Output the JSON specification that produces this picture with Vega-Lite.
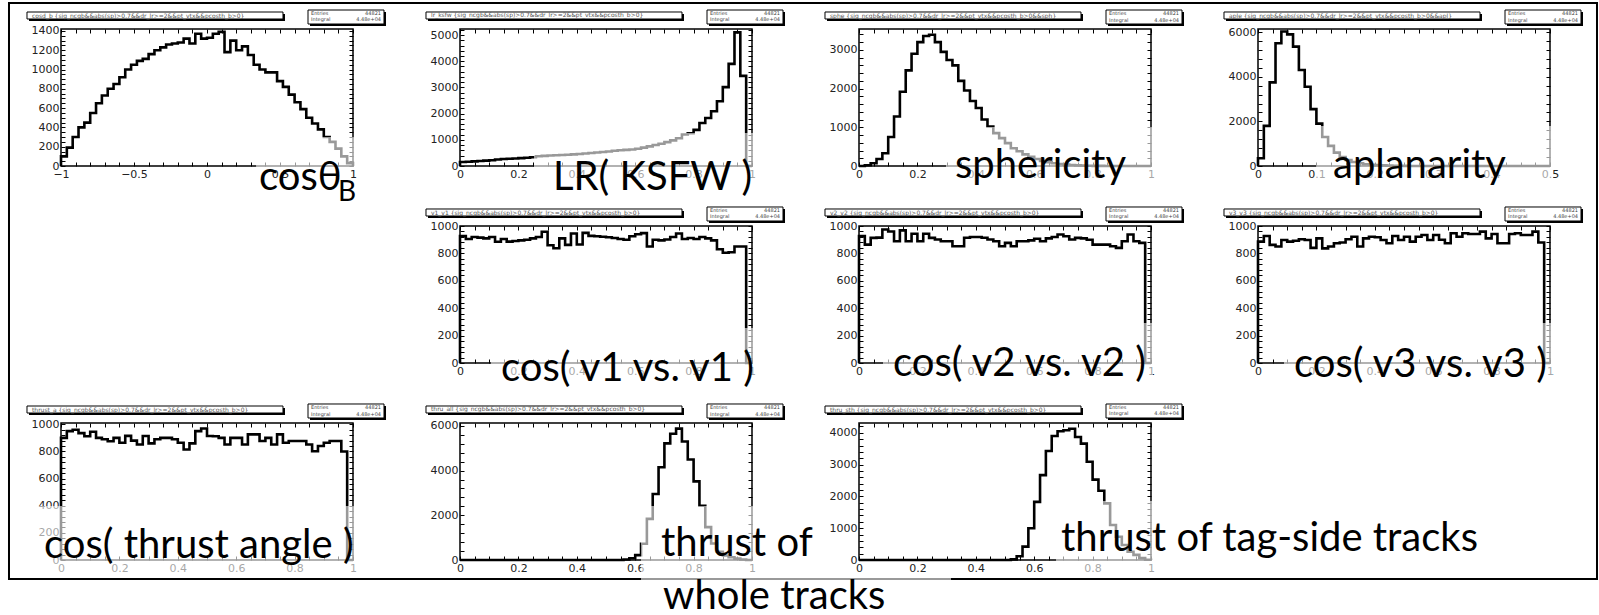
{
"$schema":"https://vega.github.io/schema/vega-lite/v6.json",
"background":"white",
"padding":{"left":7,"top":1,"right":0,"bottom":0},
"config":{
 "view":{"stroke":"black","strokeWidth":1.5},
 "axis":{"domain":false,"grid":false,"tickColor":"black","tickSize":-4,"tickWidth":1,"labelPadding":6,"labelFont":"DejaVu Sans","labelFontSize":11,"labelColor":"#222","labelFlush":false,"labelOverlap":false,"labelBound":false},
 "text":{"font":"Lato","color":"black"}
},
"columns":4,
"spacing":{"row":60,"column":107},
"bounds":"flush",
"datasets":{
"p1":[{"x":-1,"y":0},{"x":-1,"y":100},{"x":-0.96,"y":190},{"x":-0.92,"y":300},{"x":-0.88,"y":400},{"x":-0.84,"y":450},{"x":-0.8,"y":550},{"x":-0.76,"y":650},{"x":-0.72,"y":730},{"x":-0.68,"y":800},{"x":-0.64,"y":850},{"x":-0.6,"y":920},{"x":-0.56,"y":1000},{"x":-0.52,"y":1050},{"x":-0.48,"y":1090},{"x":-0.44,"y":1110},{"x":-0.4,"y":1160},{"x":-0.36,"y":1200},{"x":-0.32,"y":1230},{"x":-0.28,"y":1260},{"x":-0.24,"y":1270},{"x":-0.2,"y":1280},{"x":-0.16,"y":1320},{"x":-0.12,"y":1270},{"x":-0.08,"y":1370},{"x":-0.04,"y":1320},{"x":0,"y":1330},{"x":0.04,"y":1370},{"x":0.08,"y":1390},{"x":0.12,"y":1180},{"x":0.16,"y":1300},{"x":0.2,"y":1200},{"x":0.24,"y":1240},{"x":0.28,"y":1150},{"x":0.32,"y":1050},{"x":0.36,"y":1000},{"x":0.4,"y":970},{"x":0.44,"y":970},{"x":0.48,"y":880},{"x":0.52,"y":820},{"x":0.56,"y":740},{"x":0.6,"y":660},{"x":0.64,"y":590},{"x":0.68,"y":500},{"x":0.72,"y":440},{"x":0.76,"y":380},{"x":0.8,"y":300},{"x":0.84,"y":250},{"x":0.88,"y":180},{"x":0.92,"y":100},{"x":0.96,"y":30},{"x":1,"y":30},{"x":1,"y":0}],
"p2":[{"x":0,"y":0},{"x":0,"y":150},{"x":0.02,"y":160},{"x":0.04,"y":175},{"x":0.06,"y":190},{"x":0.08,"y":205},{"x":0.1,"y":220},{"x":0.12,"y":250},{"x":0.14,"y":265},{"x":0.16,"y":275},{"x":0.18,"y":285},{"x":0.2,"y":300},{"x":0.22,"y":315},{"x":0.24,"y":335},{"x":0.26,"y":370},{"x":0.28,"y":385},{"x":0.3,"y":400},{"x":0.32,"y":410},{"x":0.34,"y":420},{"x":0.36,"y":430},{"x":0.38,"y":445},{"x":0.4,"y":460},{"x":0.42,"y":475},{"x":0.44,"y":495},{"x":0.46,"y":515},{"x":0.48,"y":535},{"x":0.5,"y":555},{"x":0.52,"y":580},{"x":0.54,"y":600},{"x":0.56,"y":615},{"x":0.58,"y":630},{"x":0.6,"y":660},{"x":0.62,"y":700},{"x":0.64,"y":750},{"x":0.66,"y":800},{"x":0.68,"y":850},{"x":0.7,"y":910},{"x":0.72,"y":980},{"x":0.74,"y":1060},{"x":0.76,"y":1200},{"x":0.78,"y":1250},{"x":0.8,"y":1380},{"x":0.82,"y":1640},{"x":0.84,"y":1830},{"x":0.86,"y":2090},{"x":0.88,"y":2470},{"x":0.9,"y":3010},{"x":0.92,"y":3900},{"x":0.94,"y":5100},{"x":0.96,"y":3440},{"x":0.98,"y":0},{"x":1,"y":0}],
"p3":[{"x":0,"y":0},{"x":0.02,"y":20},{"x":0.04,"y":70},{"x":0.06,"y":180},{"x":0.08,"y":330},{"x":0.1,"y":750},{"x":0.12,"y":1280},{"x":0.14,"y":1920},{"x":0.16,"y":2470},{"x":0.18,"y":2900},{"x":0.2,"y":3200},{"x":0.22,"y":3360},{"x":0.24,"y":3390},{"x":0.26,"y":3200},{"x":0.28,"y":2950},{"x":0.3,"y":2740},{"x":0.32,"y":2600},{"x":0.34,"y":2200},{"x":0.36,"y":1950},{"x":0.38,"y":1680},{"x":0.4,"y":1500},{"x":0.42,"y":1200},{"x":0.44,"y":1020},{"x":0.46,"y":850},{"x":0.48,"y":720},{"x":0.5,"y":590},{"x":0.52,"y":460},{"x":0.54,"y":380},{"x":0.56,"y":300},{"x":0.58,"y":240},{"x":0.6,"y":180},{"x":0.62,"y":130},{"x":0.64,"y":100},{"x":0.66,"y":70},{"x":0.68,"y":50},{"x":0.7,"y":35},{"x":0.72,"y":25},{"x":0.74,"y":15},{"x":0.76,"y":10},{"x":0.78,"y":5},{"x":0.8,"y":3},{"x":0.82,"y":2},{"x":0.84,"y":1},{"x":0.86,"y":0},{"x":0.88,"y":0},{"x":0.9,"y":0},{"x":0.92,"y":0},{"x":0.94,"y":0},{"x":0.96,"y":0},{"x":0.98,"y":0},{"x":1,"y":0}],
"p4":[{"x":0,"y":0},{"x":0,"y":350},{"x":0.01,"y":1800},{"x":0.02,"y":3750},{"x":0.03,"y":5500},{"x":0.04,"y":6030},{"x":0.05,"y":5900},{"x":0.06,"y":5350},{"x":0.07,"y":4300},{"x":0.08,"y":3550},{"x":0.09,"y":2550},{"x":0.1,"y":1900},{"x":0.11,"y":1300},{"x":0.12,"y":900},{"x":0.13,"y":600},{"x":0.14,"y":400},{"x":0.15,"y":270},{"x":0.16,"y":180},{"x":0.17,"y":120},{"x":0.18,"y":80},{"x":0.19,"y":55},{"x":0.2,"y":40},{"x":0.21,"y":28},{"x":0.22,"y":18},{"x":0.23,"y":12},{"x":0.24,"y":8},{"x":0.25,"y":5},{"x":0.26,"y":3},{"x":0.27,"y":2},{"x":0.28,"y":1},{"x":0.29,"y":0},{"x":0.3,"y":0},{"x":0.31,"y":0},{"x":0.32,"y":0},{"x":0.33,"y":0},{"x":0.34,"y":0},{"x":0.35,"y":0},{"x":0.36,"y":0},{"x":0.37,"y":0},{"x":0.38,"y":0},{"x":0.39,"y":0},{"x":0.4,"y":0},{"x":0.41,"y":0},{"x":0.42,"y":0},{"x":0.43,"y":0},{"x":0.44,"y":0},{"x":0.45,"y":0},{"x":0.46,"y":0},{"x":0.47,"y":0},{"x":0.48,"y":0},{"x":0.49,"y":0},{"x":0.5,"y":0}],
"p5":[{"x":0,"y":0},{"x":0,"y":927},{"x":0.02,"y":905},{"x":0.04,"y":920},{"x":0.06,"y":915},{"x":0.08,"y":910},{"x":0.1,"y":920},{"x":0.12,"y":885},{"x":0.14,"y":905},{"x":0.16,"y":886},{"x":0.18,"y":890},{"x":0.2,"y":895},{"x":0.22,"y":900},{"x":0.24,"y":910},{"x":0.26,"y":920},{"x":0.28,"y":958},{"x":0.3,"y":860},{"x":0.32,"y":838},{"x":0.34,"y":910},{"x":0.36,"y":862},{"x":0.38,"y":945},{"x":0.4,"y":865},{"x":0.42,"y":950},{"x":0.44,"y":928},{"x":0.46,"y":925},{"x":0.48,"y":922},{"x":0.5,"y":918},{"x":0.52,"y":912},{"x":0.54,"y":905},{"x":0.56,"y":900},{"x":0.58,"y":925},{"x":0.6,"y":940},{"x":0.62,"y":948},{"x":0.64,"y":850},{"x":0.66,"y":900},{"x":0.68,"y":895},{"x":0.7,"y":902},{"x":0.72,"y":920},{"x":0.74,"y":945},{"x":0.76,"y":905},{"x":0.78,"y":912},{"x":0.8,"y":905},{"x":0.82,"y":920},{"x":0.84,"y":910},{"x":0.86,"y":895},{"x":0.88,"y":830},{"x":0.9,"y":805},{"x":0.92,"y":808},{"x":0.94,"y":850},{"x":0.96,"y":850},{"x":0.98,"y":0},{"x":1,"y":0}],
"p6":[{"x":0,"y":0},{"x":0,"y":926},{"x":0.02,"y":864},{"x":0.04,"y":913},{"x":0.06,"y":915},{"x":0.08,"y":975},{"x":0.1,"y":960},{"x":0.12,"y":889},{"x":0.14,"y":968},{"x":0.16,"y":889},{"x":0.18,"y":943},{"x":0.2,"y":889},{"x":0.22,"y":943},{"x":0.24,"y":913},{"x":0.26,"y":901},{"x":0.28,"y":889},{"x":0.3,"y":889},{"x":0.32,"y":852},{"x":0.34,"y":852},{"x":0.36,"y":914},{"x":0.38,"y":920},{"x":0.4,"y":920},{"x":0.42,"y":914},{"x":0.44,"y":901},{"x":0.46,"y":889},{"x":0.48,"y":852},{"x":0.5,"y":877},{"x":0.52,"y":852},{"x":0.54,"y":889},{"x":0.56,"y":889},{"x":0.58,"y":895},{"x":0.6,"y":907},{"x":0.62,"y":889},{"x":0.64,"y":910},{"x":0.66,"y":920},{"x":0.68,"y":938},{"x":0.7,"y":925},{"x":0.72,"y":901},{"x":0.74,"y":913},{"x":0.76,"y":910},{"x":0.78,"y":900},{"x":0.8,"y":864},{"x":0.82,"y":864},{"x":0.84,"y":864},{"x":0.86,"y":852},{"x":0.88,"y":840},{"x":0.9,"y":889},{"x":0.92,"y":938},{"x":0.94,"y":889},{"x":0.96,"y":877},{"x":0.98,"y":0},{"x":1,"y":0}],
"p7":[{"x":0,"y":0},{"x":0,"y":886},{"x":0.02,"y":927},{"x":0.04,"y":862},{"x":0.06,"y":850},{"x":0.08,"y":898},{"x":0.1,"y":886},{"x":0.12,"y":892},{"x":0.14,"y":903},{"x":0.16,"y":898},{"x":0.18,"y":840},{"x":0.2,"y":910},{"x":0.22,"y":837},{"x":0.24,"y":850},{"x":0.26,"y":874},{"x":0.28,"y":880},{"x":0.3,"y":903},{"x":0.32,"y":922},{"x":0.34,"y":850},{"x":0.36,"y":910},{"x":0.38,"y":922},{"x":0.4,"y":918},{"x":0.42,"y":898},{"x":0.44,"y":874},{"x":0.46,"y":927},{"x":0.48,"y":898},{"x":0.5,"y":922},{"x":0.52,"y":886},{"x":0.54,"y":922},{"x":0.56,"y":934},{"x":0.58,"y":898},{"x":0.6,"y":934},{"x":0.62,"y":900},{"x":0.64,"y":874},{"x":0.66,"y":947},{"x":0.68,"y":922},{"x":0.7,"y":947},{"x":0.72,"y":942},{"x":0.74,"y":942},{"x":0.76,"y":959},{"x":0.78,"y":910},{"x":0.8,"y":942},{"x":0.82,"y":874},{"x":0.84,"y":874},{"x":0.86,"y":942},{"x":0.88,"y":947},{"x":0.9,"y":934},{"x":0.92,"y":934},{"x":0.94,"y":959},{"x":0.96,"y":880},{"x":0.98,"y":0},{"x":1,"y":0}],
"p8":[{"x":0,"y":0},{"x":0,"y":900},{"x":0.02,"y":950},{"x":0.04,"y":960},{"x":0.06,"y":935},{"x":0.08,"y":912},{"x":0.1,"y":945},{"x":0.12,"y":900},{"x":0.14,"y":890},{"x":0.16,"y":876},{"x":0.18,"y":900},{"x":0.2,"y":864},{"x":0.22,"y":915},{"x":0.24,"y":880},{"x":0.26,"y":852},{"x":0.28,"y":914},{"x":0.3,"y":860},{"x":0.32,"y":890},{"x":0.34,"y":900},{"x":0.36,"y":900},{"x":0.38,"y":890},{"x":0.4,"y":864},{"x":0.42,"y":815},{"x":0.44,"y":860},{"x":0.46,"y":950},{"x":0.48,"y":970},{"x":0.5,"y":914},{"x":0.52,"y":912},{"x":0.54,"y":900},{"x":0.56,"y":852},{"x":0.58,"y":900},{"x":0.6,"y":900},{"x":0.62,"y":852},{"x":0.64,"y":926},{"x":0.66,"y":926},{"x":0.68,"y":877},{"x":0.7,"y":900},{"x":0.72,"y":852},{"x":0.74,"y":926},{"x":0.76,"y":864},{"x":0.78,"y":877},{"x":0.8,"y":877},{"x":0.82,"y":877},{"x":0.84,"y":852},{"x":0.86,"y":802},{"x":0.88,"y":840},{"x":0.9,"y":864},{"x":0.92,"y":877},{"x":0.94,"y":877},{"x":0.96,"y":800},{"x":0.98,"y":0},{"x":1,"y":0}],
"p9":[{"x":0,"y":0},{"x":0.02,"y":0},{"x":0.04,"y":0},{"x":0.06,"y":0},{"x":0.08,"y":0},{"x":0.1,"y":0},{"x":0.12,"y":0},{"x":0.14,"y":0},{"x":0.16,"y":0},{"x":0.18,"y":0},{"x":0.2,"y":0},{"x":0.22,"y":0},{"x":0.24,"y":0},{"x":0.26,"y":0},{"x":0.28,"y":0},{"x":0.3,"y":0},{"x":0.32,"y":0},{"x":0.34,"y":0},{"x":0.36,"y":0},{"x":0.38,"y":0},{"x":0.4,"y":0},{"x":0.42,"y":0},{"x":0.44,"y":0},{"x":0.46,"y":0},{"x":0.48,"y":0},{"x":0.5,"y":0},{"x":0.52,"y":0},{"x":0.54,"y":0},{"x":0.56,"y":20},{"x":0.58,"y":80},{"x":0.6,"y":220},{"x":0.62,"y":730},{"x":0.64,"y":1840},{"x":0.66,"y":2950},{"x":0.68,"y":4150},{"x":0.7,"y":5220},{"x":0.72,"y":5650},{"x":0.74,"y":5880},{"x":0.76,"y":5300},{"x":0.78,"y":4500},{"x":0.8,"y":3520},{"x":0.82,"y":2430},{"x":0.84,"y":1470},{"x":0.86,"y":740},{"x":0.88,"y":370},{"x":0.9,"y":200},{"x":0.92,"y":120},{"x":0.94,"y":60},{"x":0.96,"y":20},{"x":0.98,"y":0},{"x":1,"y":0}],
"p10":[{"x":0,"y":0},{"x":0.02,"y":0},{"x":0.04,"y":0},{"x":0.06,"y":0},{"x":0.08,"y":0},{"x":0.1,"y":0},{"x":0.12,"y":0},{"x":0.14,"y":0},{"x":0.16,"y":0},{"x":0.18,"y":0},{"x":0.2,"y":0},{"x":0.22,"y":0},{"x":0.24,"y":0},{"x":0.26,"y":0},{"x":0.28,"y":0},{"x":0.3,"y":0},{"x":0.32,"y":0},{"x":0.34,"y":0},{"x":0.36,"y":0},{"x":0.38,"y":0},{"x":0.4,"y":0},{"x":0.42,"y":0},{"x":0.44,"y":0},{"x":0.46,"y":0},{"x":0.48,"y":0},{"x":0.5,"y":0},{"x":0.52,"y":20},{"x":0.54,"y":120},{"x":0.56,"y":420},{"x":0.58,"y":1000},{"x":0.6,"y":1830},{"x":0.62,"y":2670},{"x":0.64,"y":3430},{"x":0.66,"y":3900},{"x":0.68,"y":4050},{"x":0.7,"y":4080},{"x":0.72,"y":4130},{"x":0.74,"y":3870},{"x":0.76,"y":3660},{"x":0.78,"y":3090},{"x":0.8,"y":2530},{"x":0.82,"y":2180},{"x":0.84,"y":1780},{"x":0.86,"y":1100},{"x":0.88,"y":730},{"x":0.9,"y":470},{"x":0.92,"y":260},{"x":0.94,"y":160},{"x":0.96,"y":60},{"x":0.98,"y":10},{"x":1,"y":10},{"x":1,"y":0}]
},
"concat":[
{"width":292,"height":137,"data":{"name":"p1"},"resolve":{"axis":{"x":"independent","y":"independent"}},
"layer":[
{"mark":{"type":"line","interpolate":"step-after","color":"black","strokeWidth":2.6},
 "encoding":{"x":{"field":"x","type":"quantitative","scale":{"domain":[-1,1],"nice":false,"zero":false},"axis":{"orient":"bottom","title":null,"format":"~g","values":[-1,-0.9,-0.8,-0.7,-0.6,-0.5,-0.4,-0.3,-0.2,-0.1,0,0.1,0.2,0.3,0.4,0.5,0.6,0.7,0.8,0.9,1],"labelExpr":"indexof([-1,-0.5,0,0.5,1], datum.value) >= 0 ? datum.label : ''"}},
 "y":{"field":"y","type":"quantitative","scale":{"domain":[0,1420],"nice":false,"zero":false},"axis":{"orient":"left","title":null,"format":"d","values":[0,50,100,150,200,250,300,350,400,450,500,550,600,650,700,750,800,850,900,950,1000,1050,1100,1150,1200,1250,1300,1350,1400],"labelExpr":"datum.value % 200 === 0 ? datum.label : ''"}},
 "order":{"value":null}}},
{"data":{"values":[{}]},"mark":{"type":"rect","fill":"white","opacity":0.6},
 "encoding":{"x":{"datum":0.336,"type":"quantitative","axis":{"orient":"top","title":null,"labels":false,"values":[-1,-0.9,-0.8,-0.7,-0.6,-0.5,-0.4,-0.3,-0.2,-0.1,0,0.1,0.2,0.3,0.4,0.5,0.6,0.7,0.8,0.9,1]}},"x2":{"datum":1.027},
 "y":{"datum":300.6,"type":"quantitative","axis":{"orient":"right","title":null,"labels":false,"values":[0,50,100,150,200,250,300,350,400,450,500,550,600,650,700,750,800,850,900,950,1000,1050,1100,1150,1200,1250,1300,1350,1400]}},"y2":{"datum":-10.4}}},
{"data":{"values":[{}]},"mark":{"type":"rect","fillOpacity":0,"stroke":"black","strokeWidth":2},
 "encoding":{"x":{"datum":-1.3562,"type":"quantitative","axis":null},"x2":{"datum":9.5205},"y":{"datum":1689.5,"type":"quantitative","axis":null},"y2":{"datum":-4280.7}}},
{"data":{"values":[{}]},"mark":{"type":"rect","fill":"black","xOffset":2,"x2Offset":2,"yOffset":2,"y2Offset":2},
 "encoding":{"x":{"datum":-1.2329,"type":"quantitative","axis":null},"x2":{"datum":0.5205},"y":{"datum":1596.2,"type":"quantitative","axis":null},"y2":{"datum":1523.7}}},
{"data":{"values":[{}]},"mark":{"type":"rect","fill":"white","stroke":"black","strokeWidth":1},
 "encoding":{"x":{"datum":-1.2329,"type":"quantitative","axis":null},"x2":{"datum":0.5205},"y":{"datum":1596.2,"type":"quantitative","axis":null},"y2":{"datum":1523.7}}},
{"data":{"values":[{}]},"mark":{"type":"rect","fill":"black","xOffset":2,"x2Offset":2,"yOffset":2,"y2Offset":2},
 "encoding":{"x":{"datum":0.6918,"type":"quantitative","axis":null},"x2":{"datum":1.2123},"y":{"datum":1616.9,"type":"quantitative","axis":null},"y2":{"datum":1471.8}}},
{"data":{"values":[{}]},"mark":{"type":"rect","fill":"white","stroke":"black","strokeWidth":1},
 "encoding":{"x":{"datum":0.6918,"type":"quantitative","axis":null},"x2":{"datum":1.2123},"y":{"datum":1616.9,"type":"quantitative","axis":null},"y2":{"datum":1471.8}}},
{"data":{"values":[{}]},"mark":{"type":"text","text":"cosd_b {sig_ncgb&&abs(sp)>0.7&&dr_lr>=2&&pt_vtx&&pcosth_b>0}","align":"left","baseline":"middle","font":"DejaVu Sans","fontSize":6,"color":"#555"},
 "encoding":{"x":{"datum":-1.1986,"type":"quantitative","axis":null},"y":{"datum":1559.9,"type":"quantitative","axis":null}}},
{"data":{"values":[{}]},"mark":{"type":"text","text":"Entries\nIntegral","lineBreak":"\n","align":"left","baseline":"top","font":"DejaVu Sans","fontSize":5,"lineHeight":6.5,"color":"#444"},
 "encoding":{"x":{"datum":0.7123,"type":"quantitative","axis":null},"y":{"datum":1606.6,"type":"quantitative","axis":null}}},
{"data":{"values":[{}]},"mark":{"type":"text","text":"44821\n4.48e+04","lineBreak":"\n","align":"right","baseline":"top","font":"DejaVu Sans","fontSize":5,"lineHeight":6.5,"color":"#444"},
 "encoding":{"x":{"datum":1.1918,"type":"quantitative","axis":null},"y":{"datum":1606.6,"type":"quantitative","axis":null}}},
{"data":{"values":[{}]},"mark":{"type":"text","text":"cosθ","align":"left","baseline":"alphabetic","fontSize":40},
 "encoding":{"x":{"datum":0.356,"type":"quantitative","axis":null},"y":{"datum":-249,"type":"quantitative","axis":null}}},
{"data":{"values":[{}]},"mark":{"type":"text","text":"B","align":"left","baseline":"alphabetic","fontSize":28},
 "encoding":{"x":{"datum":0.897,"type":"quantitative","axis":null},"y":{"datum":-363,"type":"quantitative","axis":null}}}
]},

{"width":292,"height":137,"data":{"name":"p2"},"resolve":{"axis":{"x":"independent","y":"independent"}},
"layer":[
{"mark":{"type":"line","interpolate":"step-after","color":"black","strokeWidth":2.6},
 "encoding":{"x":{"field":"x","type":"quantitative","scale":{"domain":[0,1],"nice":false,"zero":false},"axis":{"orient":"bottom","title":null,"format":"~g","values":[0,0.05,0.1,0.15,0.2,0.25,0.3,0.35,0.4,0.45,0.5,0.55,0.6,0.65,0.7,0.75,0.8,0.85,0.9,0.95,1],"labelExpr":"indexof([0,0.2,0.4,0.6,0.8,1], datum.value) >= 0 ? datum.label : ''"}},
 "y":{"field":"y","type":"quantitative","scale":{"domain":[0,5230],"nice":false,"zero":false},"axis":{"orient":"left","title":null,"format":"d","values":[0,200,400,600,800,1000,1200,1400,1600,1800,2000,2200,2400,2600,2800,3000,3200,3400,3600,3800,4000,4200,4400,4600,4800,5000,5200],"labelExpr":"datum.value % 1000 === 0 ? datum.label : ''"}},
 "order":{"value":null}}},
{"data":{"values":[{}]},"mark":{"type":"rect","fill":"white","opacity":0.6},
 "encoding":{"x":{"datum":0.2534,"type":"quantitative","axis":{"orient":"top","title":null,"labels":false,"values":[0,0.05,0.1,0.15,0.2,0.25,0.3,0.35,0.4,0.45,0.5,0.55,0.6,0.65,0.7,0.75,0.8,0.85,0.9,0.95,1]}},"x2":{"datum":1.0171},
 "y":{"datum":1259.8,"type":"quantitative","axis":{"orient":"right","title":null,"labels":false,"values":[0,200,400,600,800,1000,1200,1400,1600,1800,2000,2200,2400,2600,2800,3000,3200,3400,3600,3800,4000,4200,4400,4600,4800,5000,5200]}},"y2":{"datum":-649}}},
{"data":{"values":[{}]},"mark":{"type":"rect","fill":"black","xOffset":2,"x2Offset":2,"yOffset":2,"y2Offset":2},
 "encoding":{"x":{"datum":-0.11644,"type":"quantitative","axis":null},"x2":{"datum":0.76027},"y":{"datum":5879,"type":"quantitative","axis":null},"y2":{"datum":5611.8}}},
{"data":{"values":[{}]},"mark":{"type":"rect","fill":"white","stroke":"black","strokeWidth":1},
 "encoding":{"x":{"datum":-0.11644,"type":"quantitative","axis":null},"x2":{"datum":0.76027},"y":{"datum":5879,"type":"quantitative","axis":null},"y2":{"datum":5611.8}}},
{"data":{"values":[{}]},"mark":{"type":"rect","fill":"black","xOffset":2,"x2Offset":2,"yOffset":2,"y2Offset":2},
 "encoding":{"x":{"datum":0.8459,"type":"quantitative","axis":null},"x2":{"datum":1.1062},"y":{"datum":5955.3,"type":"quantitative","axis":null},"y2":{"datum":5420.9}}},
{"data":{"values":[{}]},"mark":{"type":"rect","fill":"white","stroke":"black","strokeWidth":1},
 "encoding":{"x":{"datum":0.8459,"type":"quantitative","axis":null},"x2":{"datum":1.1062},"y":{"datum":5955.3,"type":"quantitative","axis":null},"y2":{"datum":5420.9}}},
{"data":{"values":[{}]},"mark":{"type":"text","text":"lr_ksfw {sig_ncgb&&abs(sp)>0.7&&dr_lr>=2&&pt_vtx&&pcosth_b>0}","align":"left","baseline":"middle","font":"DejaVu Sans","fontSize":6,"color":"#555"},
 "encoding":{"x":{"datum":-0.09932,"type":"quantitative","axis":null},"y":{"datum":5745.4,"type":"quantitative","axis":null}}},
{"data":{"values":[{}]},"mark":{"type":"text","text":"Entries\nIntegral","lineBreak":"\n","align":"left","baseline":"top","font":"DejaVu Sans","fontSize":5,"lineHeight":6.5,"color":"#444"},
 "encoding":{"x":{"datum":0.85617,"type":"quantitative","axis":null},"y":{"datum":5917.2,"type":"quantitative","axis":null}}},
{"data":{"values":[{}]},"mark":{"type":"text","text":"44821\n4.48e+04","lineBreak":"\n","align":"right","baseline":"top","font":"DejaVu Sans","fontSize":5,"lineHeight":6.5,"color":"#444"},
 "encoding":{"x":{"datum":1.0959,"type":"quantitative","axis":null},"y":{"datum":5917.2,"type":"quantitative","axis":null}}},
{"data":{"values":[{}]},"mark":{"type":"text","text":"LR( KSFW )","align":"left","baseline":"alphabetic","fontSize":40},
 "encoding":{"x":{"datum":0.3185,"type":"quantitative","axis":null},"y":{"datum":-916.2,"type":"quantitative","axis":null}}}
]},

{"width":292,"height":137,"data":{"name":"p3"},"resolve":{"axis":{"x":"independent","y":"independent"}},
"layer":[
{"mark":{"type":"line","interpolate":"step-after","color":"black","strokeWidth":2.6},
 "encoding":{"x":{"field":"x","type":"quantitative","scale":{"domain":[0,1],"nice":false,"zero":false},"axis":{"orient":"bottom","title":null,"format":"~g","values":[0,0.05,0.1,0.15,0.2,0.25,0.3,0.35,0.4,0.45,0.5,0.55,0.6,0.65,0.7,0.75,0.8,0.85,0.9,0.95,1],"labelExpr":"indexof([0,0.2,0.4,0.6,0.8,1], datum.value) >= 0 ? datum.label : ''"}},
 "y":{"field":"y","type":"quantitative","scale":{"domain":[0,3540],"nice":false,"zero":false},"axis":{"orient":"left","title":null,"format":"d","values":[0,200,400,600,800,1000,1200,1400,1600,1800,2000,2200,2400,2600,2800,3000,3200,3400],"labelExpr":"datum.value % 1000 === 0 ? datum.label : ''"}},
 "order":{"value":null}}},
{"data":{"values":[{}]},"mark":{"type":"rect","fill":"white","opacity":0.6},
 "encoding":{"x":{"datum":0.2979,"type":"quantitative","axis":{"orient":"top","title":null,"labels":false,"values":[0,0.05,0.1,0.15,0.2,0.25,0.3,0.35,0.4,0.45,0.5,0.55,0.6,0.65,0.7,0.75,0.8,0.85,0.9,0.95,1]}},"x2":{"datum":1.0171},
 "y":{"datum":1007.7,"type":"quantitative","axis":{"orient":"right","title":null,"labels":false,"values":[0,200,400,600,800,1000,1200,1400,1600,1800,2000,2200,2400,2600,2800,3000,3200,3400]}},"y2":{"datum":-439.3}}},
{"data":{"values":[{}]},"mark":{"type":"rect","fill":"black","xOffset":2,"x2Offset":2,"yOffset":2,"y2Offset":2},
 "encoding":{"x":{"datum":-0.11644,"type":"quantitative","axis":null},"x2":{"datum":0.76027},"y":{"datum":3979.3,"type":"quantitative","axis":null},"y2":{"datum":3798.4}}},
{"data":{"values":[{}]},"mark":{"type":"rect","fill":"white","stroke":"black","strokeWidth":1},
 "encoding":{"x":{"datum":-0.11644,"type":"quantitative","axis":null},"x2":{"datum":0.76027},"y":{"datum":3979.3,"type":"quantitative","axis":null},"y2":{"datum":3798.4}}},
{"data":{"values":[{}]},"mark":{"type":"rect","fill":"black","xOffset":2,"x2Offset":2,"yOffset":2,"y2Offset":2},
 "encoding":{"x":{"datum":0.8459,"type":"quantitative","axis":null},"x2":{"datum":1.1062},"y":{"datum":4030.9,"type":"quantitative","axis":null},"y2":{"datum":3669.2}}},
{"data":{"values":[{}]},"mark":{"type":"rect","fill":"white","stroke":"black","strokeWidth":1},
 "encoding":{"x":{"datum":0.8459,"type":"quantitative","axis":null},"x2":{"datum":1.1062},"y":{"datum":4030.9,"type":"quantitative","axis":null},"y2":{"datum":3669.2}}},
{"data":{"values":[{}]},"mark":{"type":"text","text":"sphe {sig_ncgb&&abs(sp)>0.7&&dr_lr>=2&&pt_vtx&&pcosth_b>0&&sph}","align":"left","baseline":"middle","font":"DejaVu Sans","fontSize":6,"color":"#555"},
 "encoding":{"x":{"datum":-0.09932,"type":"quantitative","axis":null},"y":{"datum":3888.8,"type":"quantitative","axis":null}}},
{"data":{"values":[{}]},"mark":{"type":"text","text":"Entries\nIntegral","lineBreak":"\n","align":"left","baseline":"top","font":"DejaVu Sans","fontSize":5,"lineHeight":6.5,"color":"#444"},
 "encoding":{"x":{"datum":0.85617,"type":"quantitative","axis":null},"y":{"datum":4005.1,"type":"quantitative","axis":null}}},
{"data":{"values":[{}]},"mark":{"type":"text","text":"44821\n4.48e+04","lineBreak":"\n","align":"right","baseline":"top","font":"DejaVu Sans","fontSize":5,"lineHeight":6.5,"color":"#444"},
 "encoding":{"x":{"datum":1.0959,"type":"quantitative","axis":null},"y":{"datum":4005.1,"type":"quantitative","axis":null}}},
{"data":{"values":[{}]},"mark":{"type":"text","text":"sphericity","align":"left","baseline":"alphabetic","fontSize":40},
 "encoding":{"x":{"datum":0.3288,"type":"quantitative","axis":null},"y":{"datum":-310.1,"type":"quantitative","axis":null}}}
]},

{"width":292,"height":137,"data":{"name":"p4"},"resolve":{"axis":{"x":"independent","y":"independent"}},
"layer":[
{"mark":{"type":"line","interpolate":"step-after","color":"black","strokeWidth":2.6},
 "encoding":{"x":{"field":"x","type":"quantitative","scale":{"domain":[0,0.5],"nice":false,"zero":false},"axis":{"orient":"bottom","title":null,"format":"~g","values":[0,0.025,0.05,0.075,0.1,0.125,0.15,0.175,0.2,0.225,0.25,0.275,0.3,0.325,0.35,0.375,0.4,0.425,0.45,0.475,0.5],"labelExpr":"indexof([0,0.1,0.2,0.3,0.4,0.5], datum.value) >= 0 ? datum.label : ''"}},
 "y":{"field":"y","type":"quantitative","scale":{"domain":[0,6140],"nice":false,"zero":false},"axis":{"orient":"left","title":null,"format":"d","values":[0,400,800,1200,1600,2000,2400,2800,3200,3600,4000,4400,4800,5200,5600,6000],"labelExpr":"datum.value % 2000 === 0 ? datum.label : ''"}},
 "order":{"value":null}}},
{"data":{"values":[{}]},"mark":{"type":"rect","fill":"white","opacity":0.6},
 "encoding":{"x":{"datum":0.09932,"type":"quantitative","axis":{"orient":"top","title":null,"labels":false,"values":[0,0.025,0.05,0.075,0.1,0.125,0.15,0.175,0.2,0.225,0.25,0.275,0.3,0.325,0.35,0.375,0.4,0.425,0.45,0.475,0.5]}},"x2":{"datum":0.50514},
 "y":{"datum":1792.7,"type":"quantitative","axis":{"orient":"right","title":null,"labels":false,"values":[0,400,800,1200,1600,2000,2400,2800,3200,3600,4000,4400,4800,5200,5600,6000]}},"y2":{"datum":-761.9}}},
{"data":{"values":[{}]},"mark":{"type":"rect","fill":"black","xOffset":2,"x2Offset":2,"yOffset":2,"y2Offset":2},
 "encoding":{"x":{"datum":-0.05822,"type":"quantitative","axis":null},"x2":{"datum":0.38014},"y":{"datum":6901.9,"type":"quantitative","axis":null},"y2":{"datum":6588.2}}},
{"data":{"values":[{}]},"mark":{"type":"rect","fill":"white","stroke":"black","strokeWidth":1},
 "encoding":{"x":{"datum":-0.05822,"type":"quantitative","axis":null},"x2":{"datum":0.38014},"y":{"datum":6901.9,"type":"quantitative","axis":null},"y2":{"datum":6588.2}}},
{"data":{"values":[{}]},"mark":{"type":"rect","fill":"black","xOffset":2,"x2Offset":2,"yOffset":2,"y2Offset":2},
 "encoding":{"x":{"datum":0.42295,"type":"quantitative","axis":null},"x2":{"datum":0.55308},"y":{"datum":6991.5,"type":"quantitative","axis":null},"y2":{"datum":6364.1}}},
{"data":{"values":[{}]},"mark":{"type":"rect","fill":"white","stroke":"black","strokeWidth":1},
 "encoding":{"x":{"datum":0.42295,"type":"quantitative","axis":null},"x2":{"datum":0.55308},"y":{"datum":6991.5,"type":"quantitative","axis":null},"y2":{"datum":6364.1}}},
{"data":{"values":[{}]},"mark":{"type":"text","text":"aple {sig_ncgb&&abs(sp)>0.7&&dr_lr>=2&&pt_vtx&&pcosth_b>0&&apl}","align":"left","baseline":"middle","font":"DejaVu Sans","fontSize":6,"color":"#555"},
 "encoding":{"x":{"datum":-0.04966,"type":"quantitative","axis":null},"y":{"datum":6745,"type":"quantitative","axis":null}}},
{"data":{"values":[{}]},"mark":{"type":"text","text":"Entries\nIntegral","lineBreak":"\n","align":"left","baseline":"top","font":"DejaVu Sans","fontSize":5,"lineHeight":6.5,"color":"#444"},
 "encoding":{"x":{"datum":0.42808,"type":"quantitative","axis":null},"y":{"datum":6946.7,"type":"quantitative","axis":null}}},
{"data":{"values":[{}]},"mark":{"type":"text","text":"44821\n4.48e+04","lineBreak":"\n","align":"right","baseline":"top","font":"DejaVu Sans","fontSize":5,"lineHeight":6.5,"color":"#444"},
 "encoding":{"x":{"datum":0.54795,"type":"quantitative","axis":null},"y":{"datum":6946.7,"type":"quantitative","axis":null}}},
{"data":{"values":[{}]},"mark":{"type":"text","text":"aplanarity","align":"left","baseline":"alphabetic","fontSize":40},
 "encoding":{"x":{"datum":0.12842,"type":"quantitative","axis":null},"y":{"datum":-537.8,"type":"quantitative","axis":null}}}
]},

{"width":292,"height":137,"view":{"stroke":null},"data":{"values":[{}]},"mark":{"type":"point","opacity":0}},

{"width":292,"height":137,"data":{"name":"p5"},"resolve":{"axis":{"x":"independent","y":"independent"}},
"layer":[
{"mark":{"type":"line","interpolate":"step-after","color":"black","strokeWidth":2.6},
 "encoding":{"x":{"field":"x","type":"quantitative","scale":{"domain":[0,1],"nice":false,"zero":false},"axis":{"orient":"bottom","title":null,"format":"~g","values":[0,0.05,0.1,0.15,0.2,0.25,0.3,0.35,0.4,0.45,0.5,0.55,0.6,0.65,0.7,0.75,0.8,0.85,0.9,0.95,1],"labelExpr":"indexof([0,0.2,0.4,0.6,0.8,1], datum.value) >= 0 ? datum.label : ''"}},
 "y":{"field":"y","type":"quantitative","scale":{"domain":[0,1000],"nice":false,"zero":false},"axis":{"orient":"left","title":null,"format":"d","values":[0,40,80,120,160,200,240,280,320,360,400,440,480,520,560,600,640,680,720,760,800,840,880,920,960,1000],"labelExpr":"datum.value % 200 === 0 ? datum.label : ''"}},
 "order":{"value":null}}},
{"data":{"values":[{}]},"mark":{"type":"rect","fill":"white","opacity":0.6},
 "encoding":{"x":{"datum":0.1062,"type":"quantitative","axis":{"orient":"top","title":null,"labels":false,"values":[0,0.05,0.1,0.15,0.2,0.25,0.3,0.35,0.4,0.45,0.5,0.55,0.6,0.65,0.7,0.75,0.8,0.85,0.9,0.95,1]}},"x2":{"datum":1.0171},
 "y":{"datum":255.5,"type":"quantitative","axis":{"orient":"right","title":null,"labels":false,"values":[0,40,80,120,160,200,240,280,320,360,400,440,480,520,560,600,640,680,720,760,800,840,880,920,960,1000]}},"y2":{"datum":-240.9}}},
{"data":{"values":[{}]},"mark":{"type":"rect","fill":"black","xOffset":2,"x2Offset":2,"yOffset":2,"y2Offset":2},
 "encoding":{"x":{"datum":-0.11644,"type":"quantitative","axis":null},"x2":{"datum":0.76027},"y":{"datum":1124.1,"type":"quantitative","axis":null},"y2":{"datum":1073}}},
{"data":{"values":[{}]},"mark":{"type":"rect","fill":"white","stroke":"black","strokeWidth":1},
 "encoding":{"x":{"datum":-0.11644,"type":"quantitative","axis":null},"x2":{"datum":0.76027},"y":{"datum":1124.1,"type":"quantitative","axis":null},"y2":{"datum":1073}}},
{"data":{"values":[{}]},"mark":{"type":"rect","fill":"black","xOffset":2,"x2Offset":2,"yOffset":2,"y2Offset":2},
 "encoding":{"x":{"datum":0.8459,"type":"quantitative","axis":null},"x2":{"datum":1.1062},"y":{"datum":1138.7,"type":"quantitative","axis":null},"y2":{"datum":1036.5}}},
{"data":{"values":[{}]},"mark":{"type":"rect","fill":"white","stroke":"black","strokeWidth":1},
 "encoding":{"x":{"datum":0.8459,"type":"quantitative","axis":null},"x2":{"datum":1.1062},"y":{"datum":1138.7,"type":"quantitative","axis":null},"y2":{"datum":1036.5}}},
{"data":{"values":[{}]},"mark":{"type":"text","text":"v1_v1 {sig_ncgb&&abs(sp)>0.7&&dr_lr>=2&&pt_vtx&&pcosth_b>0}","align":"left","baseline":"middle","font":"DejaVu Sans","fontSize":6,"color":"#555"},
 "encoding":{"x":{"datum":-0.09932,"type":"quantitative","axis":null},"y":{"datum":1098.5,"type":"quantitative","axis":null}}},
{"data":{"values":[{}]},"mark":{"type":"text","text":"Entries\nIntegral","lineBreak":"\n","align":"left","baseline":"top","font":"DejaVu Sans","fontSize":5,"lineHeight":6.5,"color":"#444"},
 "encoding":{"x":{"datum":0.85617,"type":"quantitative","axis":null},"y":{"datum":1131.4,"type":"quantitative","axis":null}}},
{"data":{"values":[{}]},"mark":{"type":"text","text":"44821\n4.48e+04","lineBreak":"\n","align":"right","baseline":"top","font":"DejaVu Sans","fontSize":5,"lineHeight":6.5,"color":"#444"},
 "encoding":{"x":{"datum":1.0959,"type":"quantitative","axis":null},"y":{"datum":1131.4,"type":"quantitative","axis":null}}},
{"data":{"values":[{}]},"mark":{"type":"text","text":"cos( v1 vs. v1 )","align":"left","baseline":"alphabetic","fontSize":40},
 "encoding":{"x":{"datum":0.1404,"type":"quantitative","axis":null},"y":{"datum":-131.4,"type":"quantitative","axis":null}}}
]},

{"width":292,"height":137,"data":{"name":"p6"},"resolve":{"axis":{"x":"independent","y":"independent"}},
"layer":[
{"mark":{"type":"line","interpolate":"step-after","color":"black","strokeWidth":2.6},
 "encoding":{"x":{"field":"x","type":"quantitative","scale":{"domain":[0,1],"nice":false,"zero":false},"axis":{"orient":"bottom","title":null,"format":"~g","values":[0,0.05,0.1,0.15,0.2,0.25,0.3,0.35,0.4,0.45,0.5,0.55,0.6,0.65,0.7,0.75,0.8,0.85,0.9,0.95,1],"labelExpr":"indexof([0,0.2,0.4,0.6,0.8,1], datum.value) >= 0 ? datum.label : ''"}},
 "y":{"field":"y","type":"quantitative","scale":{"domain":[0,1000],"nice":false,"zero":false},"axis":{"orient":"left","title":null,"format":"d","values":[0,40,80,120,160,200,240,280,320,360,400,440,480,520,560,600,640,680,720,760,800,840,880,920,960,1000],"labelExpr":"datum.value % 200 === 0 ? datum.label : ''"}},
 "order":{"value":null}}},
{"data":{"values":[{}]},"mark":{"type":"rect","fill":"white","opacity":0.6},
 "encoding":{"x":{"datum":0.0822,"type":"quantitative","axis":{"orient":"top","title":null,"labels":false,"values":[0,0.05,0.1,0.15,0.2,0.25,0.3,0.35,0.4,0.45,0.5,0.55,0.6,0.65,0.7,0.75,0.8,0.85,0.9,0.95,1]}},"x2":{"datum":1.0068},
 "y":{"datum":292,"type":"quantitative","axis":{"orient":"right","title":null,"labels":false,"values":[0,40,80,120,160,200,240,280,320,360,400,440,480,520,560,600,640,680,720,760,800,840,880,920,960,1000]}},"y2":{"datum":-240.9}}},
{"data":{"values":[{}]},"mark":{"type":"rect","fill":"black","xOffset":2,"x2Offset":2,"yOffset":2,"y2Offset":2},
 "encoding":{"x":{"datum":-0.11644,"type":"quantitative","axis":null},"x2":{"datum":0.76027},"y":{"datum":1124.1,"type":"quantitative","axis":null},"y2":{"datum":1073}}},
{"data":{"values":[{}]},"mark":{"type":"rect","fill":"white","stroke":"black","strokeWidth":1},
 "encoding":{"x":{"datum":-0.11644,"type":"quantitative","axis":null},"x2":{"datum":0.76027},"y":{"datum":1124.1,"type":"quantitative","axis":null},"y2":{"datum":1073}}},
{"data":{"values":[{}]},"mark":{"type":"rect","fill":"black","xOffset":2,"x2Offset":2,"yOffset":2,"y2Offset":2},
 "encoding":{"x":{"datum":0.8459,"type":"quantitative","axis":null},"x2":{"datum":1.1062},"y":{"datum":1138.7,"type":"quantitative","axis":null},"y2":{"datum":1036.5}}},
{"data":{"values":[{}]},"mark":{"type":"rect","fill":"white","stroke":"black","strokeWidth":1},
 "encoding":{"x":{"datum":0.8459,"type":"quantitative","axis":null},"x2":{"datum":1.1062},"y":{"datum":1138.7,"type":"quantitative","axis":null},"y2":{"datum":1036.5}}},
{"data":{"values":[{}]},"mark":{"type":"text","text":"v2_v2 {sig_ncgb&&abs(sp)>0.7&&dr_lr>=2&&pt_vtx&&pcosth_b>0}","align":"left","baseline":"middle","font":"DejaVu Sans","fontSize":6,"color":"#555"},
 "encoding":{"x":{"datum":-0.09932,"type":"quantitative","axis":null},"y":{"datum":1098.5,"type":"quantitative","axis":null}}},
{"data":{"values":[{}]},"mark":{"type":"text","text":"Entries\nIntegral","lineBreak":"\n","align":"left","baseline":"top","font":"DejaVu Sans","fontSize":5,"lineHeight":6.5,"color":"#444"},
 "encoding":{"x":{"datum":0.85617,"type":"quantitative","axis":null},"y":{"datum":1131.4,"type":"quantitative","axis":null}}},
{"data":{"values":[{}]},"mark":{"type":"text","text":"44821\n4.48e+04","lineBreak":"\n","align":"right","baseline":"top","font":"DejaVu Sans","fontSize":5,"lineHeight":6.5,"color":"#444"},
 "encoding":{"x":{"datum":1.0959,"type":"quantitative","axis":null},"y":{"datum":1131.4,"type":"quantitative","axis":null}}},
{"data":{"values":[{}]},"mark":{"type":"text","text":"cos( v2 vs. v2 )","align":"left","baseline":"alphabetic","fontSize":40},
 "encoding":{"x":{"datum":0.1164,"type":"quantitative","axis":null},"y":{"datum":-94.9,"type":"quantitative","axis":null}}}
]},

{"width":292,"height":137,"data":{"name":"p7"},"resolve":{"axis":{"x":"independent","y":"independent"}},
"layer":[
{"mark":{"type":"line","interpolate":"step-after","color":"black","strokeWidth":2.6},
 "encoding":{"x":{"field":"x","type":"quantitative","scale":{"domain":[0,1],"nice":false,"zero":false},"axis":{"orient":"bottom","title":null,"format":"~g","values":[0,0.05,0.1,0.15,0.2,0.25,0.3,0.35,0.4,0.45,0.5,0.55,0.6,0.65,0.7,0.75,0.8,0.85,0.9,0.95,1],"labelExpr":"indexof([0,0.2,0.4,0.6,0.8,1], datum.value) >= 0 ? datum.label : ''"}},
 "y":{"field":"y","type":"quantitative","scale":{"domain":[0,1000],"nice":false,"zero":false},"axis":{"orient":"left","title":null,"format":"d","values":[0,40,80,120,160,200,240,280,320,360,400,440,480,520,560,600,640,680,720,760,800,840,880,920,960,1000],"labelExpr":"datum.value % 200 === 0 ? datum.label : ''"}},
 "order":{"value":null}}},
{"data":{"values":[{}]},"mark":{"type":"rect","fill":"white","opacity":0.6},
 "encoding":{"x":{"datum":0.089,"type":"quantitative","axis":{"orient":"top","title":null,"labels":false,"values":[0,0.05,0.1,0.15,0.2,0.25,0.3,0.35,0.4,0.45,0.5,0.55,0.6,0.65,0.7,0.75,0.8,0.85,0.9,0.95,1]}},"x2":{"datum":1.0103},
 "y":{"datum":292,"type":"quantitative","axis":{"orient":"right","title":null,"labels":false,"values":[0,40,80,120,160,200,240,280,320,360,400,440,480,520,560,600,640,680,720,760,800,840,880,920,960,1000]}},"y2":{"datum":-240.9}}},
{"data":{"values":[{}]},"mark":{"type":"rect","fill":"black","xOffset":2,"x2Offset":2,"yOffset":2,"y2Offset":2},
 "encoding":{"x":{"datum":-0.11644,"type":"quantitative","axis":null},"x2":{"datum":0.76027},"y":{"datum":1124.1,"type":"quantitative","axis":null},"y2":{"datum":1073}}},
{"data":{"values":[{}]},"mark":{"type":"rect","fill":"white","stroke":"black","strokeWidth":1},
 "encoding":{"x":{"datum":-0.11644,"type":"quantitative","axis":null},"x2":{"datum":0.76027},"y":{"datum":1124.1,"type":"quantitative","axis":null},"y2":{"datum":1073}}},
{"data":{"values":[{}]},"mark":{"type":"rect","fill":"black","xOffset":2,"x2Offset":2,"yOffset":2,"y2Offset":2},
 "encoding":{"x":{"datum":0.8459,"type":"quantitative","axis":null},"x2":{"datum":1.1062},"y":{"datum":1138.7,"type":"quantitative","axis":null},"y2":{"datum":1036.5}}},
{"data":{"values":[{}]},"mark":{"type":"rect","fill":"white","stroke":"black","strokeWidth":1},
 "encoding":{"x":{"datum":0.8459,"type":"quantitative","axis":null},"x2":{"datum":1.1062},"y":{"datum":1138.7,"type":"quantitative","axis":null},"y2":{"datum":1036.5}}},
{"data":{"values":[{}]},"mark":{"type":"text","text":"v3_v3 {sig_ncgb&&abs(sp)>0.7&&dr_lr>=2&&pt_vtx&&pcosth_b>0}","align":"left","baseline":"middle","font":"DejaVu Sans","fontSize":6,"color":"#555"},
 "encoding":{"x":{"datum":-0.09932,"type":"quantitative","axis":null},"y":{"datum":1098.5,"type":"quantitative","axis":null}}},
{"data":{"values":[{}]},"mark":{"type":"text","text":"Entries\nIntegral","lineBreak":"\n","align":"left","baseline":"top","font":"DejaVu Sans","fontSize":5,"lineHeight":6.5,"color":"#444"},
 "encoding":{"x":{"datum":0.85617,"type":"quantitative","axis":null},"y":{"datum":1131.4,"type":"quantitative","axis":null}}},
{"data":{"values":[{}]},"mark":{"type":"text","text":"44821\n4.48e+04","lineBreak":"\n","align":"right","baseline":"top","font":"DejaVu Sans","fontSize":5,"lineHeight":6.5,"color":"#444"},
 "encoding":{"x":{"datum":1.0959,"type":"quantitative","axis":null},"y":{"datum":1131.4,"type":"quantitative","axis":null}}},
{"data":{"values":[{}]},"mark":{"type":"text","text":"cos( v3 vs. v3 )","align":"left","baseline":"alphabetic","fontSize":40},
 "encoding":{"x":{"datum":0.1233,"type":"quantitative","axis":null},"y":{"datum":-102.2,"type":"quantitative","axis":null}}}
]},

{"width":292,"height":137,"data":{"name":"p8"},"resolve":{"axis":{"x":"independent","y":"independent"}},
"layer":[
{"mark":{"type":"line","interpolate":"step-after","color":"black","strokeWidth":2.6},
 "encoding":{"x":{"field":"x","type":"quantitative","scale":{"domain":[0,1],"nice":false,"zero":false},"axis":{"orient":"bottom","title":null,"format":"~g","values":[0,0.05,0.1,0.15,0.2,0.25,0.3,0.35,0.4,0.45,0.5,0.55,0.6,0.65,0.7,0.75,0.8,0.85,0.9,0.95,1],"labelExpr":"indexof([0,0.2,0.4,0.6,0.8,1], datum.value) >= 0 ? datum.label : ''"}},
 "y":{"field":"y","type":"quantitative","scale":{"domain":[0,1010],"nice":false,"zero":false},"axis":{"orient":"left","title":null,"format":"d","values":[0,40,80,120,160,200,240,280,320,360,400,440,480,520,560,600,640,680,720,760,800,840,880,920,960,1000],"labelExpr":"datum.value % 200 === 0 ? datum.label : ''"}},
 "order":{"value":null}}},
{"data":{"values":[{}]},"mark":{"type":"rect","fill":"white","opacity":0.6},
 "encoding":{"x":{"datum":-0.1712,"type":"quantitative","axis":{"orient":"top","title":null,"labels":false,"values":[0,0.05,0.1,0.15,0.2,0.25,0.3,0.35,0.4,0.45,0.5,0.55,0.6,0.65,0.7,0.75,0.8,0.85,0.9,0.95,1]}},"x2":{"datum":1.0137},
 "y":{"datum":398.1,"type":"quantitative","axis":{"orient":"right","title":null,"labels":false,"values":[0,40,80,120,160,200,240,280,320,360,400,440,480,520,560,600,640,680,720,760,800,840,880,920,960,1000]}},"y2":{"datum":-118}}},
{"data":{"values":[{}]},"mark":{"type":"rect","fill":"black","xOffset":2,"x2Offset":2,"yOffset":2,"y2Offset":2},
 "encoding":{"x":{"datum":-0.11644,"type":"quantitative","axis":null},"x2":{"datum":0.76027},"y":{"datum":1135.3,"type":"quantitative","axis":null},"y2":{"datum":1083.7}}},
{"data":{"values":[{}]},"mark":{"type":"rect","fill":"white","stroke":"black","strokeWidth":1},
 "encoding":{"x":{"datum":-0.11644,"type":"quantitative","axis":null},"x2":{"datum":0.76027},"y":{"datum":1135.3,"type":"quantitative","axis":null},"y2":{"datum":1083.7}}},
{"data":{"values":[{}]},"mark":{"type":"rect","fill":"black","xOffset":2,"x2Offset":2,"yOffset":2,"y2Offset":2},
 "encoding":{"x":{"datum":0.8459,"type":"quantitative","axis":null},"x2":{"datum":1.1062},"y":{"datum":1150.1,"type":"quantitative","axis":null},"y2":{"datum":1046.9}}},
{"data":{"values":[{}]},"mark":{"type":"rect","fill":"white","stroke":"black","strokeWidth":1},
 "encoding":{"x":{"datum":0.8459,"type":"quantitative","axis":null},"x2":{"datum":1.1062},"y":{"datum":1150.1,"type":"quantitative","axis":null},"y2":{"datum":1046.9}}},
{"data":{"values":[{}]},"mark":{"type":"text","text":"thrust_a {sig_ncgb&&abs(sp)>0.7&&dr_lr>=2&&pt_vtx&&pcosth_b>0}","align":"left","baseline":"middle","font":"DejaVu Sans","fontSize":6,"color":"#555"},
 "encoding":{"x":{"datum":-0.09932,"type":"quantitative","axis":null},"y":{"datum":1109.5,"type":"quantitative","axis":null}}},
{"data":{"values":[{}]},"mark":{"type":"text","text":"Entries\nIntegral","lineBreak":"\n","align":"left","baseline":"top","font":"DejaVu Sans","fontSize":5,"lineHeight":6.5,"color":"#444"},
 "encoding":{"x":{"datum":0.85617,"type":"quantitative","axis":null},"y":{"datum":1142.7,"type":"quantitative","axis":null}}},
{"data":{"values":[{}]},"mark":{"type":"text","text":"44821\n4.48e+04","lineBreak":"\n","align":"right","baseline":"top","font":"DejaVu Sans","fontSize":5,"lineHeight":6.5,"color":"#444"},
 "encoding":{"x":{"datum":1.0959,"type":"quantitative","axis":null},"y":{"datum":1142.7,"type":"quantitative","axis":null}}},
{"data":{"values":[{}]},"mark":{"type":"text","text":"cos( thrust angle )","align":"left","baseline":"alphabetic","fontSize":40},
 "encoding":{"x":{"datum":-0.0582,"type":"quantitative","axis":null},"y":{"datum":14.7,"type":"quantitative","axis":null}}}
]},

{"width":292,"height":137,"data":{"name":"p9"},"resolve":{"axis":{"x":"independent","y":"independent"}},
"layer":[
{"mark":{"type":"line","interpolate":"step-after","color":"black","strokeWidth":2.6},
 "encoding":{"x":{"field":"x","type":"quantitative","scale":{"domain":[0,1],"nice":false,"zero":false},"axis":{"orient":"bottom","title":null,"format":"~g","values":[0,0.05,0.1,0.15,0.2,0.25,0.3,0.35,0.4,0.45,0.5,0.55,0.6,0.65,0.7,0.75,0.8,0.85,0.9,0.95,1],"labelExpr":"indexof([0,0.2,0.4,0.6,0.8,1], datum.value) >= 0 ? datum.label : ''"}},
 "y":{"field":"y","type":"quantitative","scale":{"domain":[0,6130],"nice":false,"zero":false},"axis":{"orient":"left","title":null,"format":"d","values":[0,400,800,1200,1600,2000,2400,2800,3200,3600,4000,4400,4800,5200,5600,6000],"labelExpr":"datum.value % 2000 === 0 ? datum.label : ''"}},
 "order":{"value":null}}},
{"data":{"values":[{}]},"mark":{"type":"rect","fill":"white","opacity":0.6},
 "encoding":{"x":{"datum":0.6199,"type":"quantitative","axis":{"orient":"top","title":null,"labels":false,"values":[0,0.05,0.1,0.15,0.2,0.25,0.3,0.35,0.4,0.45,0.5,0.55,0.6,0.65,0.7,0.75,0.8,0.85,0.9,0.95,1]}},"x2":{"datum":1.6815},
 "y":{"datum":2416.2,"type":"quantitative","axis":{"orient":"right","title":null,"labels":false,"values":[0,400,800,1200,1600,2000,2400,2800,3200,3600,4000,4400,4800,5200,5600,6000]}},"y2":{"datum":-2505.7}}},
{"data":{"values":[{}]},"mark":{"type":"rect","fill":"black","xOffset":2,"x2Offset":2,"yOffset":2,"y2Offset":2},
 "encoding":{"x":{"datum":-0.11644,"type":"quantitative","axis":null},"x2":{"datum":0.76027},"y":{"datum":6890.7,"type":"quantitative","axis":null},"y2":{"datum":6577.5}}},
{"data":{"values":[{}]},"mark":{"type":"rect","fill":"white","stroke":"black","strokeWidth":1},
 "encoding":{"x":{"datum":-0.11644,"type":"quantitative","axis":null},"x2":{"datum":0.76027},"y":{"datum":6890.7,"type":"quantitative","axis":null},"y2":{"datum":6577.5}}},
{"data":{"values":[{}]},"mark":{"type":"rect","fill":"black","xOffset":2,"x2Offset":2,"yOffset":2,"y2Offset":2},
 "encoding":{"x":{"datum":0.8459,"type":"quantitative","axis":null},"x2":{"datum":1.1062},"y":{"datum":6980.2,"type":"quantitative","axis":null},"y2":{"datum":6353.7}}},
{"data":{"values":[{}]},"mark":{"type":"rect","fill":"white","stroke":"black","strokeWidth":1},
 "encoding":{"x":{"datum":0.8459,"type":"quantitative","axis":null},"x2":{"datum":1.1062},"y":{"datum":6980.2,"type":"quantitative","axis":null},"y2":{"datum":6353.7}}},
{"data":{"values":[{}]},"mark":{"type":"text","text":"thru_all {sig_ncgb&&abs(sp)>0.7&&dr_lr>=2&&pt_vtx&&pcosth_b>0}","align":"left","baseline":"middle","font":"DejaVu Sans","fontSize":6,"color":"#555"},
 "encoding":{"x":{"datum":-0.09932,"type":"quantitative","axis":null},"y":{"datum":6734.1,"type":"quantitative","axis":null}}},
{"data":{"values":[{}]},"mark":{"type":"text","text":"Entries\nIntegral","lineBreak":"\n","align":"left","baseline":"top","font":"DejaVu Sans","fontSize":5,"lineHeight":6.5,"color":"#444"},
 "encoding":{"x":{"datum":0.85617,"type":"quantitative","axis":null},"y":{"datum":6935.4,"type":"quantitative","axis":null}}},
{"data":{"values":[{}]},"mark":{"type":"text","text":"44821\n4.48e+04","lineBreak":"\n","align":"right","baseline":"top","font":"DejaVu Sans","fontSize":5,"lineHeight":6.5,"color":"#444"},
 "encoding":{"x":{"datum":1.0959,"type":"quantitative","axis":null},"y":{"datum":6935.4,"type":"quantitative","axis":null}}},
{"data":{"values":[{}]},"mark":{"type":"text","text":"thrust of","align":"left","baseline":"alphabetic","fontSize":40},
 "encoding":{"x":{"datum":0.6884,"type":"quantitative","axis":null},"y":{"datum":179,"type":"quantitative","axis":null}}},
{"data":{"values":[{}]},"mark":{"type":"text","text":"whole tracks","align":"left","baseline":"alphabetic","fontSize":40},
 "encoding":{"x":{"datum":0.6952,"type":"quantitative","axis":null},"y":{"datum":-2200,"type":"quantitative","axis":null}}}
]},

{"width":292,"height":137,"data":{"name":"p10"},"resolve":{"axis":{"x":"independent","y":"independent"}},
"layer":[
{"mark":{"type":"line","interpolate":"step-after","color":"black","strokeWidth":2.6},
 "encoding":{"x":{"field":"x","type":"quantitative","scale":{"domain":[0,1],"nice":false,"zero":false},"axis":{"orient":"bottom","title":null,"format":"~g","values":[0,0.05,0.1,0.15,0.2,0.25,0.3,0.35,0.4,0.45,0.5,0.55,0.6,0.65,0.7,0.75,0.8,0.85,0.9,0.95,1],"labelExpr":"indexof([0,0.2,0.4,0.6,0.8,1], datum.value) >= 0 ? datum.label : ''"}},
 "y":{"field":"y","type":"quantitative","scale":{"domain":[0,4310],"nice":false,"zero":false},"axis":{"orient":"left","title":null,"format":"d","values":[0,200,400,600,800,1000,1200,1400,1600,1800,2000,2200,2400,2600,2800,3000,3200,3400,3600,3800,4000,4200],"labelExpr":"datum.value % 1000 === 0 ? datum.label : ''"}},
 "order":{"value":null}}},
{"data":{"values":[{}]},"mark":{"type":"rect","fill":"white","opacity":0.6},
 "encoding":{"x":{"datum":0.6747,"type":"quantitative","axis":{"orient":"top","title":null,"labels":false,"values":[0,0.05,0.1,0.15,0.2,0.25,0.3,0.35,0.4,0.45,0.5,0.55,0.6,0.65,0.7,0.75,0.8,0.85,0.9,0.95,1]}},"x2":{"datum":2.0685},
 "y":{"datum":1856.1,"type":"quantitative","axis":{"orient":"right","title":null,"labels":false,"values":[0,200,400,600,800,1000,1200,1400,1600,1800,2000,2200,2400,2600,2800,3000,3200,3400,3600,3800,4000,4200]}},"y2":{"datum":-471.9}}},
{"data":{"values":[{}]},"mark":{"type":"rect","fill":"black","xOffset":2,"x2Offset":2,"yOffset":2,"y2Offset":2},
 "encoding":{"x":{"datum":-0.11644,"type":"quantitative","axis":null},"x2":{"datum":0.76027},"y":{"datum":4844.8,"type":"quantitative","axis":null},"y2":{"datum":4624.6}}},
{"data":{"values":[{}]},"mark":{"type":"rect","fill":"white","stroke":"black","strokeWidth":1},
 "encoding":{"x":{"datum":-0.11644,"type":"quantitative","axis":null},"x2":{"datum":0.76027},"y":{"datum":4844.8,"type":"quantitative","axis":null},"y2":{"datum":4624.6}}},
{"data":{"values":[{}]},"mark":{"type":"rect","fill":"black","xOffset":2,"x2Offset":2,"yOffset":2,"y2Offset":2},
 "encoding":{"x":{"datum":0.8459,"type":"quantitative","axis":null},"x2":{"datum":1.1062},"y":{"datum":4907.7,"type":"quantitative","axis":null},"y2":{"datum":4467.3}}},
{"data":{"values":[{}]},"mark":{"type":"rect","fill":"white","stroke":"black","strokeWidth":1},
 "encoding":{"x":{"datum":0.8459,"type":"quantitative","axis":null},"x2":{"datum":1.1062},"y":{"datum":4907.7,"type":"quantitative","axis":null},"y2":{"datum":4467.3}}},
{"data":{"values":[{}]},"mark":{"type":"text","text":"thru_sth {sig_ncgb&&abs(sp)>0.7&&dr_lr>=2&&pt_vtx&&pcosth_b>0}","align":"left","baseline":"middle","font":"DejaVu Sans","fontSize":6,"color":"#555"},
 "encoding":{"x":{"datum":-0.09932,"type":"quantitative","axis":null},"y":{"datum":4734.7,"type":"quantitative","axis":null}}},
{"data":{"values":[{}]},"mark":{"type":"text","text":"Entries\nIntegral","lineBreak":"\n","align":"left","baseline":"top","font":"DejaVu Sans","fontSize":5,"lineHeight":6.5,"color":"#444"},
 "encoding":{"x":{"datum":0.85617,"type":"quantitative","axis":null},"y":{"datum":4876.3,"type":"quantitative","axis":null}}},
{"data":{"values":[{}]},"mark":{"type":"text","text":"44821\n4.48e+04","lineBreak":"\n","align":"right","baseline":"top","font":"DejaVu Sans","fontSize":5,"lineHeight":6.5,"color":"#444"},
 "encoding":{"x":{"datum":1.0959,"type":"quantitative","axis":null},"y":{"datum":4876.3,"type":"quantitative","axis":null}}},
{"data":{"values":[{}]},"mark":{"type":"text","text":"thrust of tag-side tracks","align":"left","baseline":"alphabetic","fontSize":40},
 "encoding":{"x":{"datum":0.6918,"type":"quantitative","axis":null},"y":{"datum":283.1,"type":"quantitative","axis":null}}}
]}
]
}
